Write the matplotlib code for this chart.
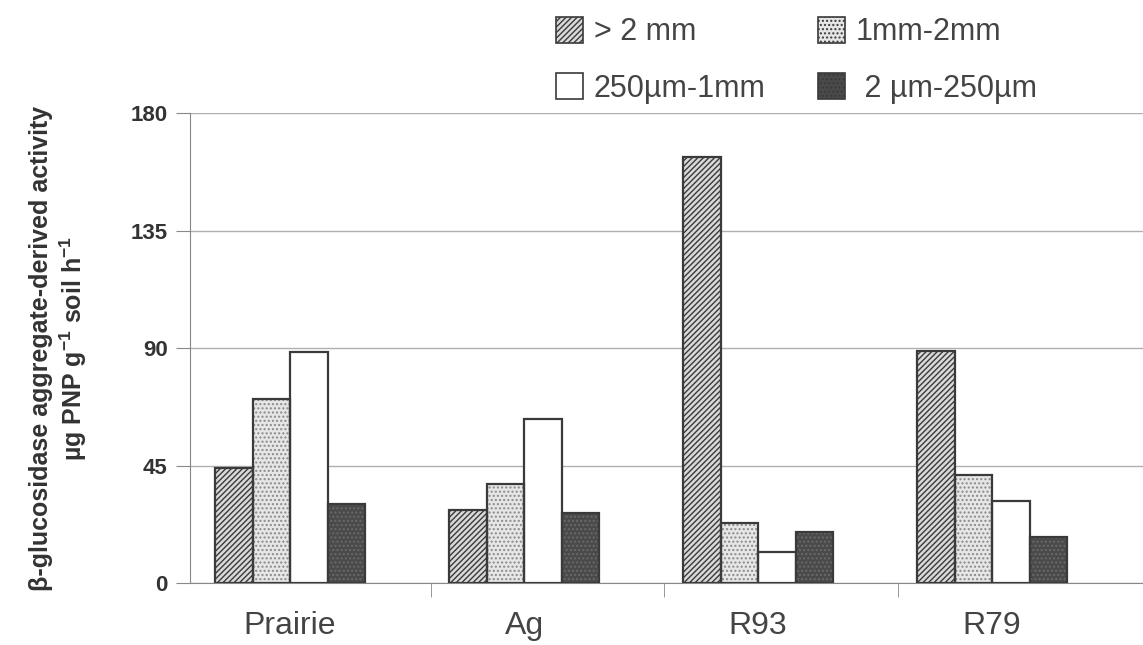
import matplotlib
matplotlib.use("Agg")
import matplotlib.pyplot as plt
import numpy as np
from matplotlib.patches import Patch

plt.rcParams['font.family'] = ['Liberation Sans', 'DejaVu Sans']
plt.rcParams['hatch.linewidth'] = 1.0
plt.rcParams['mathtext.fontset'] = 'custom'
plt.rcParams['mathtext.rm'] = 'Liberation Sans:bold'
plt.rcParams['mathtext.bf'] = 'Liberation Sans:bold'
plt.rcParams['mathtext.default'] = 'rm'

categories = ["Prairie", "Ag", "R93", "R79"]
series_names = ["> 2 mm", "1mm-2mm", "250\u00b5m-1mm", " 2 \u00b5m-250\u00b5m"]
gt2mm = [43.9, 28.0, 163.3, 88.9]
mm1_2 = [70.4, 37.8, 22.9, 41.4]
um250_1mm = [88.6, 62.8, 12.0, 31.4]
um2_250 = [30.1, 26.7, 19.6, 17.5]
yticks = [0, 45, 90, 135, 180]

series = [gt2mm, mm1_2, um250_1mm, um2_250]
faces = ["#d9d9d9", "#e6e6e6", "#ffffff", "#4a4a4a"]
hatches = ["//////", "....", None, "...."]
hatch_cols = ["#3a3a3a", "#8a8a8a", "#333333", "#6a6a6a"]

fig = plt.figure(figsize=(11.43, 6.45), dpi=100)
ax = fig.add_axes([0.1662, 0.0961, 0.8338, 0.7287])

x = np.arange(len(categories))
w = 0.16
for i, (vals, fc, h, hc) in enumerate(zip(series, faces, hatches, hatch_cols)):
    pos = x + (i - 1.5) * w
    ax.bar(pos, vals, width=w, color=fc, edgecolor=hc, linewidth=0, hatch=h, zorder=3)
    ax.bar(pos, vals, width=w, color='none', edgecolor="#3a3a3a", linewidth=1.6, zorder=4)

ax.set_ylim(0, 180)
ax.set_xlim(-0.428, 3.645)
ax.set_yticks(yticks)
ax.set_yticklabels([str(t) for t in yticks], fontsize=16, fontweight='bold', color='#333333')
ax.set_xticks(x)
ax.set_xticklabels(categories, fontsize=23, color='#444444')
ax.tick_params(axis='x', length=0, pad=20)
ax.set_xticks([0.6, 1.6, 2.6], minor=True)
ax.tick_params(axis='x', which='minor', length=10, color='#888888', direction='out')
ax.tick_params(axis='y', length=10, color='#888888', direction='out', pad=6)

ax.grid(axis='y', color='#b0b0b0', linewidth=1.0, zorder=0)
for s in ['top', 'right']:
    ax.spines[s].set_visible(False)
ax.spines['left'].set_color('#888888')
ax.spines['bottom'].set_color('#888888')

ax.set_ylabel("\u03b2-glucosidase aggregate-derived activity\n\u00b5g PNP g$^{-1}$ soil h$^{-1}$",
              fontsize=18, fontweight='bold', color='#333333', labelpad=30, linespacing=1.2)

handles = [Patch(facecolor=fc, edgecolor="#3a3a3a", hatch=h, linewidth=1.2)
           for fc, h in zip(faces, hatches)]
order = [0, 2, 1, 3]
leg = fig.legend([handles[k] for k in order], [series_names[k] for k in order],
                 ncol=2, loc='upper left', bbox_to_anchor=(0.462, 1.016),
                 frameon=False, fontsize=22, handlelength=0.9, handleheight=0.9,
                 labelspacing=0.85, columnspacing=1.7, handletextpad=0.35)
for t in leg.get_texts():
    t.set_color('#444444')

fig.savefig("out.png", dpi=100)
